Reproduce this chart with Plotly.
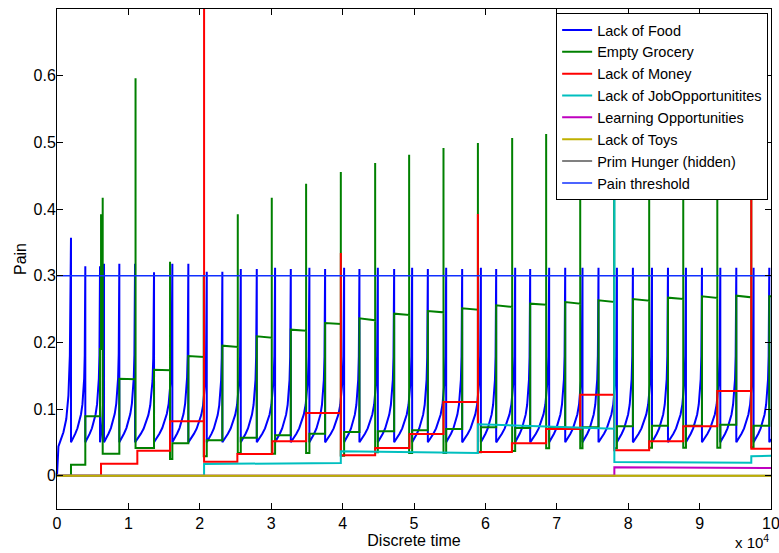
import plotly.graph_objects as go

# ---------------- data (time in units of 1e4) ----------------
# Lack of Food: sawtooth; times where the curve peaks and drops back, and peak values
food_peak_t = [0.196, 0.3965, 0.6025, 0.6585, 0.873, 1.093, 1.359, 1.6155, 1.8397, 2.0975,
               2.316, 2.574, 2.798, 3.0545, 3.2745, 3.535, 3.755, 4.0213, 4.2357, 4.4935,
               4.722, 4.974, 5.194, 5.4505, 5.6747, 5.9367, 6.151, 6.417, 6.627, 6.893,
               7.1178, 7.36, 7.584, 7.842, 8.066, 8.333, 8.557, 8.809, 9.033, 9.29,
               9.514, 9.756, 9.976]
food_peak_v = [0.357, 0.314, 0.314, 0.318, 0.318, 0.318, 0.305, 0.318, 0.318, 0.306,
               0.306, 0.31, 0.31, 0.312, 0.31, 0.312, 0.31, 0.312, 0.31, 0.312,
               0.31, 0.312, 0.31, 0.312, 0.31, 0.312, 0.31, 0.312, 0.31, 0.312,
               0.312, 0.312, 0.312, 0.312, 0.312, 0.312, 0.312, 0.312, 0.312, 0.312,
               0.312, 0.312, 0.312]
food_reset = 0.05
food_start_t = [0.0, 0.02, 0.05, 0.09, 0.13, 0.16, 0.18]
food_start_v = [0.0, 0.044, 0.053, 0.065, 0.085, 0.12, 0.18]
# shape of one rise (fraction of cycle -> value), read from a typical cycle
food_rise_frac = [0.0, 0.15, 0.3, 0.45, 0.6, 0.7, 0.8, 0.87, 0.92, 0.96, 0.985, 1.0]
food_rise_v = [0.05, 0.056, 0.063, 0.071, 0.082, 0.092, 0.107, 0.124, 0.145, 0.18, 0.23, 0.313]
food_end_v = 0.055

# Empty Grocery: change times, level after change, level before next change, spike height
grocery_t = [0.0, 0.196, 0.3965, 0.6025, 0.617, 0.640, 0.873, 1.10, 1.359, 1.583,
             1.6155, 1.8397, 2.055, 2.0975, 2.316, 2.532, 2.574, 2.798, 3.008, 3.0545,
             3.2745, 3.489, 3.535, 3.755, 3.975, 4.0213, 4.2357, 4.456, 4.4935, 4.722,
             4.932, 4.974, 5.194, 5.413, 5.4505, 5.6747, 5.895, 5.9367, 6.151, 6.375,
             6.417, 6.627, 6.851, 6.893, 7.1178, 7.328, 7.36, 7.584, 7.804, 7.842,
             8.066, 8.294, 8.333, 8.557, 8.771, 8.809, 9.033, 9.248, 9.29, 9.514,
             9.724, 9.756, 9.976]
grocery_v0 = [0.0, 0.0165, 0.089, 0.19, 0.19, 0.033, 0.1455, 0.0415, 0.159, 0.025,
              0.0485, 0.1795, 0.029, 0.053, 0.195, 0.034, 0.057, 0.209, 0.033, 0.0605,
              0.219, 0.034, 0.063, 0.229, 0.030, 0.0655, 0.236, 0.035, 0.0665, 0.243,
              0.034, 0.068, 0.247, 0.034, 0.070, 0.251, 0.035, 0.0725, 0.2555, 0.037,
              0.0715, 0.258, 0.041, 0.0725, 0.2605, 0.041, 0.0725, 0.263, 0.041, 0.074,
              0.265, 0.042, 0.075, 0.267, 0.042, 0.075, 0.269, 0.042, 0.0765, 0.270,
              0.0425, 0.075, 0.269]
grocery_v1 = [0.0, 0.0165, 0.089, 0.19, 0.19, 0.033, 0.1445, 0.0415, 0.158, 0.025,
              0.0485, 0.178, 0.029, 0.053, 0.193, 0.034, 0.057, 0.207, 0.033, 0.0605,
              0.2175, 0.034, 0.063, 0.2275, 0.030, 0.0655, 0.233, 0.035, 0.0665, 0.241,
              0.034, 0.068, 0.245, 0.034, 0.070, 0.249, 0.035, 0.0725, 0.253, 0.037,
              0.0715, 0.2565, 0.041, 0.0725, 0.258, 0.041, 0.0725, 0.2605, 0.041, 0.074,
              0.2625, 0.042, 0.075, 0.265, 0.042, 0.075, 0.2665, 0.042, 0.0765, 0.2675,
              0.0425, 0.075, 0.269]
grocery_spike = [0, 0, 0, 0, 0.392, 0.417, 0, 0.596, 0, 0.321,
                 0, 0, 0.30, 0, 0, 0.392, 0, 0, 0.417, 0,
                 0, 0.438, 0, 0, 0.4555, 0, 0, 0.469, 0, 0,
                 0.4815, 0, 0, 0.4915, 0, 0, 0.499, 0, 0, 0.5065,
                 0, 0, 0.5125, 0, 0, 0.515, 0, 0, 0.518, 0,
                 0, 0.52, 0, 0, 0.522, 0, 0, 0.524, 0, 0,
                 0.525, 0, 0]

# Lack of Money
money_t = [0.0, 0.6165, 1.125, 1.583, 2.06, 2.526, 3.017, 3.489, 3.975, 4.456,
           4.937, 5.413, 5.895, 6.371, 6.85, 7.328, 7.804, 8.294, 8.771, 9.248, 9.724]
money_v = [0.0, 0.018, 0.0375, 0.0815, 0.021, 0.0325, 0.0515, 0.094, 0.0305, 0.0415,
           0.0625, 0.1105, 0.0355, 0.0485, 0.07, 0.1215, 0.038, 0.0515, 0.074, 0.127, 0.0405]
money_spike = [0, 0, 0, 0, 0.75, 0, 0, 0, 0.334, 0,
               0, 0, 0.3925, 0, 0, 0, 0, 0, 0, 0, 0.5]

# Lack of JobOpportunitites
job_t = [0.0, 2.06, 3.975, 5.895, 7.806, 9.724]
job_v0 = [0.0, 0.0175, 0.0365, 0.077, 0.0205, 0.029]
job_v1 = [0.0, 0.019, 0.034, 0.0705, 0.0195, 0.030]
job_spike = [0, 0, 0, 0, 0.5, 0]

# Learning Opportunities
learn_t = [0.0, 7.806]
learn_v0 = [0.0, 0.0125]
learn_v1 = [0.0, 0.0115]

# Lack of Toys, Prim Hunger (hidden), Pain threshold
toys_t = [0.0, 10.0]
toys_v = [0.0, 0.0]
hunger_t = [0.0, 10.0]
hunger_v = [0.0, 0.0]
threshold_t = [0.0, 10.0]
threshold_v = [0.3, 0.3]

x_tick_vals = [0, 1, 2, 3, 4, 5, 6, 7, 8, 9, 10]
x_tick_text = ["0", "1", "2", "3", "4", "5", "6", "7", "8", "9", "10"]
y_tick_vals = [0, 0.1, 0.2, 0.3, 0.4, 0.5, 0.6]
y_tick_text = ["0", "0.1", "0.2", "0.3", "0.4", "0.5", "0.6"]
SCALE = 1e4
T_END = 10.0


def build_food():
    xs, ys = list(food_start_t), list(food_start_v)
    base_span = food_rise_v[-1] - food_reset
    for i, (tp, vp) in enumerate(zip(food_peak_t, food_peak_v)):
        if i == 0:
            xs.append(tp)
            ys.append(vp)
        else:
            t0 = food_peak_t[i - 1]
            k = (vp - food_reset) / base_span
            for f, v in zip(food_rise_frac, food_rise_v):
                xs.append(t0 + f * (tp - t0))
                ys.append(food_reset + (v - food_reset) * k)
        xs.append(tp)
        ys.append(food_reset)
    xs.append(T_END)
    ys.append(food_end_v)
    return [x * SCALE for x in xs], ys


def build_steps(t, v0, v1, spike=None):
    xs, ys = [], []
    for i in range(len(t)):
        if spike is not None and spike[i]:
            xs.append(t[i])
            ys.append(spike[i])
        xs.append(t[i])
        ys.append(v0[i])
        tn = t[i + 1] if i + 1 < len(t) else T_END
        xs.append(tn)
        ys.append(v1[i])
    return [x * SCALE for x in xs], ys


FONT = "Liberation Sans, Arial, Helvetica, sans-serif"

fig = go.Figure()

fx, fy = build_food()
fig.add_trace(go.Scatter(x=fx, y=fy, mode="lines", name="Lack of Food", legendrank=1,
                         line=dict(color="#0000FF", width=2)))
gx, gy = build_steps(grocery_t, grocery_v0, grocery_v1, grocery_spike)
fig.add_trace(go.Scatter(x=gx, y=gy, mode="lines", name="Empty Grocery", legendrank=2,
                         line=dict(color="#008000", width=2)))
mx, my = build_steps(money_t, money_v, money_v, money_spike)
fig.add_trace(go.Scatter(x=mx, y=my, mode="lines", name="Lack of Money", legendrank=3,
                         line=dict(color="#FF0000", width=2)))
jx, jy = build_steps(job_t, job_v0, job_v1, job_spike)
fig.add_trace(go.Scatter(x=jx, y=jy, mode="lines", name="Lack of JobOpportunitites",
                         legendrank=4, line=dict(color="#00BFBF", width=2)))
lx, ly = build_steps(learn_t, learn_v0, learn_v1)
fig.add_trace(go.Scatter(x=lx, y=ly, mode="lines", name="Learning Opportunities",
                         legendrank=5, line=dict(color="#BF00BF", width=2)))
# hidden hunger line is drawn underneath the toys line
fig.add_trace(go.Scatter(x=[t * SCALE for t in hunger_t], y=hunger_v, mode="lines",
                         name="Prim Hunger (hidden)", legendrank=7,
                         line=dict(color="#808080", width=2)))
fig.add_trace(go.Scatter(x=[t * SCALE for t in toys_t], y=toys_v, mode="lines",
                         name="Lack of Toys", legendrank=6,
                         line=dict(color="#BFB000", width=2)))
fig.add_trace(go.Scatter(x=[t * SCALE for t in threshold_t], y=threshold_v, mode="lines",
                         name="Pain threshold", legendrank=8,
                         line=dict(color="#1030FF", width=1.5)))

axis_common = dict(showline=True, linecolor="black", linewidth=1, mirror="allticks",
                   ticks="inside", ticklen=6, tickcolor="black", showgrid=False,
                   zeroline=False, automargin=False, ticklabeloverflow="allow",
                   tickfont=dict(family=FONT, size=16, color="black"))

fig.update_layout(
    width=779, height=553,
    margin=dict(l=57, r=8, t=9, b=44),
    paper_bgcolor="white", plot_bgcolor="white",
    font=dict(family=FONT, size=16, color="black"),
    showlegend=True,
    legend=dict(x=0.996, y=0.992, xanchor="right", yanchor="top",
                bgcolor="white", bordercolor="black", borderwidth=1,
                font=dict(family=FONT, size=14.5, color="black"),
                tracegroupgap=0, itemwidth=30),
    xaxis=dict(range=[0, 10 * SCALE], tickvals=[v * SCALE for v in x_tick_vals],
               ticktext=x_tick_text,
               title=dict(text="Discrete time", standoff=0,
                          font=dict(family=FONT, size=16, color="black")),
               **axis_common),
    yaxis=dict(range=[-0.05, 0.7], tickvals=y_tick_vals, ticktext=y_tick_text,
               ticklabelstandoff=-3,
               title=dict(text="Pain", standoff=2,
                          font=dict(family=FONT, size=16, color="black")),
               **axis_common),
    annotations=[dict(text="x 10<sup>4</sup>", xref="paper", yref="paper",
                      x=1.0, y=-0.064, xanchor="right", yanchor="middle",
                      showarrow=False, font=dict(family=FONT, size=15, color="black"))],
)

fig.write_html("out.html", config={"displayModeBar": False},
               post_script="document.body.style.margin='0px';"
                           "document.body.style.overflow='hidden';")
